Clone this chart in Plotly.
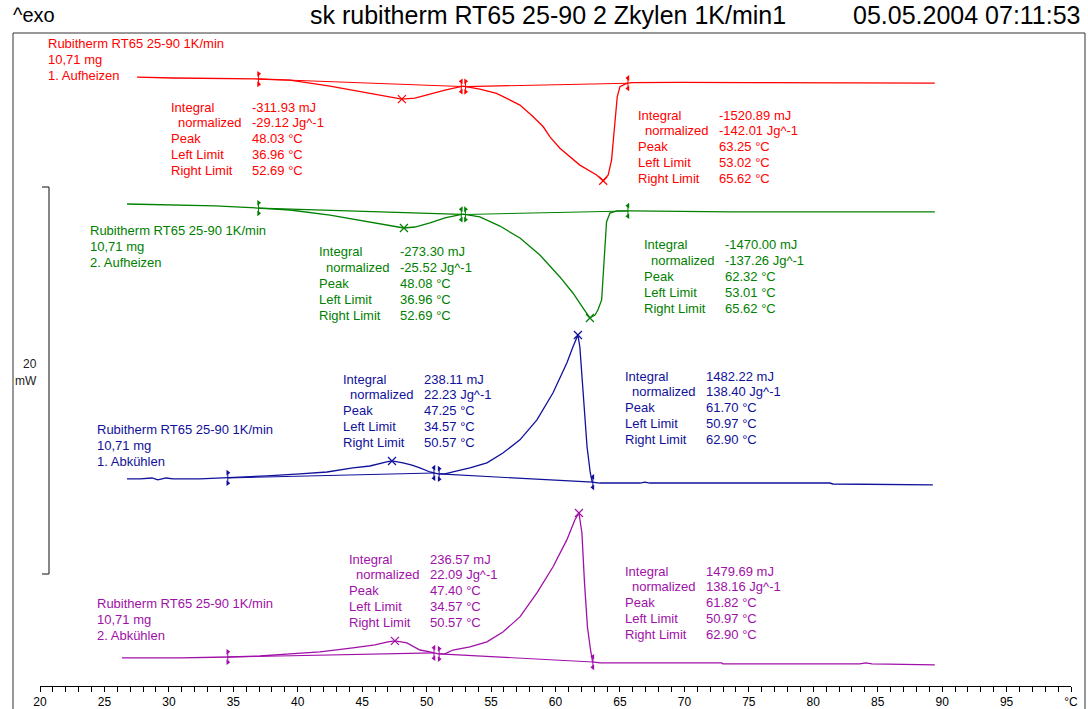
import numpy as np
import plotly.graph_objects as go

# ---------------- data ----------------
RED_T = [27.53, 30.32, 36.91, 39.40, 42.50, 45.60, 47.15, 48.08, 49.09, 50.26, 51.42, 52.82,
         54.13, 55.43, 57.24, 58.27, 59.05, 59.57, 60.34, 61.89, 63.19, 63.70, 64.09, 64.35,
         64.61, 64.79, 65.00, 65.52, 65.90, 69.65, 75.08, 81.29, 89.43]
RED_MW = [0, -0.05, -0.10, -0.16, -0.47, -0.83, -1.03, -1.14, -1.09, -0.88, -0.67, -0.47,
          -0.62, -0.84, -1.45, -2.05, -2.57, -3.09, -3.68, -4.55, -5.06, -5.36, -5.06, -4.29,
          -2.57, -1.02, -0.50, -0.33, -0.29, -0.27, -0.29, -0.29, -0.31]

GREEN_T = [26.75, 29.31, 33.58, 36.91, 39.40, 42.50, 45.60, 47.15, 48.24, 49.09, 50.26, 51.42,
           52.82, 54.13, 55.69, 57.24, 58.79, 60.34, 61.35, 62.13, 62.67, 63.06, 63.29, 63.58,
           63.70, 63.83, 63.96, 64.22, 64.76, 65.85, 73.53, 89.43]
GREEN_MW = [0, -0.05, -0.10, -0.21, -0.31, -0.57, -0.93, -1.14, -1.24, -1.19, -0.98, -0.72,
            -0.52, -0.67, -1.14, -1.76, -2.64, -3.77, -4.60, -5.37, -5.89, -5.74, -5.48, -4.96,
            -3.57, -1.86, -0.93, -0.47, -0.36, -0.36, -0.41, -0.41]

BLUE_T = [26.75, 27.76, 28.69, 29.15, 29.78, 30.32, 32.41, 34.51, 35.52, 37.61, 40.17, 42.27,
          44.28, 45.60, 46.90, 47.31, 48.16, 48.86, 49.48, 50.26, 50.88, 51.42, 52.04, 53.36,
          54.68, 55.92, 57.24, 58.56, 59.80, 60.88, 61.35, 61.74, 61.89, 62.22, 62.45, 62.70,
          62.85, 63.45, 66.55, 66.94, 67.32, 71.20, 81.29, 81.52, 89.28]
BLUE_MW = [0, 0, 0.05, -0.05, 0.05, 0, 0, 0.05, 0.10, 0.16, 0.26, 0.36,
           0.57, 0.67, 0.88, 0.93, 0.83, 0.72, 0.57, 0.36, 0.26, 0.26, 0.36, 0.57,
           0.83, 1.34, 2.02, 3.05, 4.44, 5.99, 6.82, 7.44, 6.82, 3.93, 1.65, 0.31,
           -0.16, -0.21, -0.21, -0.16, -0.21, -0.21, -0.21, -0.26, -0.31]

PURPLE_T = [26.36, 30.86, 34.66, 37.07, 39.40, 41.72, 44.28, 45.99, 47.00, 47.54, 48.47, 48.94,
            49.48, 50.26, 50.88, 51.42, 52.04, 53.36, 54.68, 55.92, 57.24, 58.56, 59.80, 60.88,
            61.50, 61.82, 62.05, 62.25, 62.48, 62.72, 62.88, 63.45, 72.91, 72.99, 83.61, 84.08,
            84.55, 89.43]
PURPLE_MW = [0, 0, 0.05, 0.10, 0.21, 0.31, 0.52, 0.67, 0.83, 0.88, 0.78, 0.62,
             0.41, 0.31, 0.21, 0.21, 0.41, 0.57, 0.83, 1.34, 2.12, 3.36, 4.70, 6.10,
             7.13, 7.49, 6.46, 3.88, 1.60, 0.41, -0.21, -0.26, -0.26, -0.31, -0.31, -0.26,
             -0.31, -0.36]

SAMPLE_NAME = "Rubitherm RT65 25-90 1K/min"
SAMPLE_MASS = "10,71 mg"
SEGMENTS = ["1. Aufheizen", "2. Aufheizen", "1. Abkühlen", "2. Abkühlen"]

# evaluation tables: integral (mJ), normalized (J/g), peak, left limit, right limit (°C)
RED_EVAL = [[-311.93, -29.12, 48.03, 36.96, 52.69], [-1520.89, -142.01, 63.25, 53.02, 65.62]]
GREEN_EVAL = [[-273.30, -25.52, 48.08, 36.96, 52.69], [-1470.00, -137.26, 62.32, 53.01, 65.62]]
BLUE_EVAL = [[238.11, 22.23, 47.25, 34.57, 50.57], [1482.22, 138.40, 61.70, 50.97, 62.90]]
PURPLE_EVAL = [[236.57, 22.09, 47.40, 34.57, 50.57], [1479.69, 138.16, 61.82, 50.97, 62.90]]

X_TICKS = list(range(20, 101, 5))
X_TICK_TEXT = [str(v) for v in range(20, 100, 5)] + ["°C"]
SCALE_MW = 20

TITLE_LEFT = "^exo"
TITLE_MID = "sk rubitherm RT65 25-90 2 Zkylen 1K/min1"
TITLE_RIGHT = "05.05.2004 07:11:53"

# ---------------- layout / styling ----------------
W, H = 1088, 709
ML, MR, MT, MB = 40, 17, 0, 23
PW, PH = W - ML - MR, H - MT - MB
PX_PER_MW = 19.35
FONT = "Liberation Sans, Arial, sans-serif"

def pxx(x):
    return (x - ML) / PW

def pxy(y):
    return (H - MB - y) / PH

series = [
    dict(t=RED_T, v=RED_MW, ev=RED_EVAL, color="#FF0000", off=31.47, endo=True,
         label=(46, 43), tables=[(169, 107), (636, 115)]),
    dict(t=GREEN_T, v=GREEN_MW, ev=GREEN_EVAL, color="#008000", off=24.91, endo=True,
         label=(88, 230), tables=[(317, 252), (642, 245)]),
    dict(t=BLUE_T, v=BLUE_MW, ev=BLUE_EVAL, color="#10109A", off=10.70, endo=False,
         label=(95, 429), tables=[(341, 379), (623, 376)]),
    dict(t=PURPLE_T, v=PURPLE_MW, ev=PURPLE_EVAL, color="#A010A8", off=1.45, endo=False,
         label=(95, 603), tables=[(347, 559), (623, 571)]),
]

fig = go.Figure()
ann = []
ROW = 15.8
LBL_ROW = 16
VAL_DX = 81
MARK_OFF = 0.27

for i, s in enumerate(series):
    t = np.array(s["t"], float)
    v = np.array(s["v"], float) + s["off"]
    c = s["color"]
    fig.add_trace(go.Scatter(x=t, y=v, mode="lines", line=dict(color=c, width=1.3),
                             hoverinfo="skip"))
    for k, ev in enumerate(s["ev"]):
        lo, hi = ev[3], ev[4]
        ylo, yhi = np.interp(lo, t, v), np.interp(hi, t, v)
        # baseline
        fig.add_trace(go.Scatter(x=[lo, hi], y=[ylo, yhi], mode="lines",
                                 line=dict(color=c, width=1.1), hoverinfo="skip"))
        # limit flags: short vertical stroke plus a small triangle above and below
        for xl, yl, sym in ((lo, ylo, "triangle-right"), (hi, yhi, "triangle-left")):
            fig.add_trace(go.Scatter(x=[xl, xl], y=[yl - 1.25 * MARK_OFF, yl + 1.25 * MARK_OFF],
                                     mode="lines", line=dict(color=c, width=1),
                                     hoverinfo="skip"))
            fig.add_trace(go.Scatter(x=[xl, xl], y=[yl + MARK_OFF, yl - MARK_OFF],
                                     mode="markers",
                                     marker=dict(symbol=sym, size=5, color=c),
                                     hoverinfo="skip"))
        # peak cross at the extremum of the curve in this range
        m = (t >= lo) & (t <= hi)
        idx = np.argmin(v[m]) if s["endo"] else np.argmax(v[m])
        fig.add_trace(go.Scatter(x=[t[m][idx]], y=[v[m][idx]], mode="markers",
                                 marker=dict(symbol="x-thin", size=8,
                                             line=dict(color=c, width=1.2)),
                                 hoverinfo="skip"))
        # table
        tx, ty = s["tables"][k]
        rows = [("Integral", f"{ev[0]:.2f} mJ", 0),
                ("normalized", f"{ev[1]:.2f} Jg^-1", 7),
                ("Peak", f"{ev[2]:.2f} °C", 0),
                ("Left Limit", f"{ev[3]:.2f} °C", 0),
                ("Right Limit", f"{ev[4]:.2f} °C", 0)]
        for r, (name, val, ind) in enumerate(rows):
            yy = ty + r * ROW
            ann.append(dict(x=pxx(tx + ind), y=pxy(yy), xref="paper", yref="paper", text=name,
                            showarrow=False, xanchor="left", yanchor="middle",
                            font=dict(family=FONT, size=13, color=c)))
            ann.append(dict(x=pxx(tx + VAL_DX), y=pxy(yy), xref="paper", yref="paper", text=val,
                            showarrow=False, xanchor="left", yanchor="middle",
                            font=dict(family=FONT, size=13, color=c)))
    lx, ly = s["label"]
    for r, line in enumerate([SAMPLE_NAME, SAMPLE_MASS, SEGMENTS[i]]):
        ann.append(dict(x=pxx(lx), y=pxy(ly + r * LBL_ROW), xref="paper", yref="paper",
                        text=line, showarrow=False, xanchor="left", yanchor="middle",
                        font=dict(family=FONT, size=13, color=c)))

# header
ann.append(dict(x=pxx(11), y=pxy(15), xref="paper", yref="paper", text=TITLE_LEFT,
                showarrow=False, xanchor="left", yanchor="middle",
                font=dict(family=FONT, size=20, color="black")))
ann.append(dict(x=pxx(548), y=pxy(15), xref="paper", yref="paper", text=TITLE_MID,
                showarrow=False, xanchor="center", yanchor="middle",
                font=dict(family=FONT, size=25, color="black")))
ann.append(dict(x=pxx(1083), y=pxy(15), xref="paper", yref="paper", text=TITLE_RIGHT,
                showarrow=False, xanchor="right", yanchor="middle",
                font=dict(family=FONT, size=25, color="black")))
# scale bar label
ann.append(dict(x=pxx(39), y=pxy(364), xref="paper", yref="paper", text="20",
                showarrow=False, xanchor="right", yanchor="middle",
                font=dict(family=FONT, size=12, color="#222")))
ann.append(dict(x=pxx(39), y=pxy(381), xref="paper", yref="paper", text="mW",
                showarrow=False, xanchor="right", yanchor="middle",
                font=dict(family=FONT, size=12, color="#222")))

SCALE_BASE = (H - MB - 574) / PX_PER_MW
shapes = [
    dict(type="rect", xref="paper", yref="paper", x0=pxx(13), x1=pxx(1085),
         y0=pxy(740), y1=pxy(33), line=dict(color="#333", width=1)),
    dict(type="line", xref="paper", yref="y", x0=pxx(49), x1=pxx(49),
         y0=SCALE_BASE, y1=SCALE_BASE + SCALE_MW, line=dict(color="#444", width=1.3)),
    dict(type="line", xref="paper", yref="y", x0=pxx(42), x1=pxx(49),
         y0=SCALE_BASE, y1=SCALE_BASE, line=dict(color="#444", width=1.3)),
    dict(type="line", xref="paper", yref="y", x0=pxx(42), x1=pxx(49),
         y0=SCALE_BASE + SCALE_MW, y1=SCALE_BASE + SCALE_MW, line=dict(color="#444", width=1.3)),
]

fig.update_layout(
    width=W, height=H, margin=dict(l=ML, r=MR, t=MT, b=MB),
    paper_bgcolor="white", plot_bgcolor="white", showlegend=False,
    annotations=ann, shapes=shapes,
    xaxis=dict(range=[20, 100], tickmode="array", tickvals=X_TICKS, ticktext=X_TICK_TEXT,
               showgrid=False, zeroline=False, showline=True, linecolor="black", linewidth=1,
               ticks="outside", ticklen=5, tickcolor="black", tickwidth=1,
               tickfont=dict(family="Liberation Sans Narrow, " + FONT, size=12, color="black"),
               minor=dict(tickmode="array", tickvals=list(range(20, 101)), ticks="outside",
                          ticklen=5, tickcolor="black", tickwidth=1, showgrid=False)),
    yaxis=dict(range=[0, PH / PX_PER_MW], visible=False, showgrid=False, zeroline=False),
)

fig.write_html("out.html")
